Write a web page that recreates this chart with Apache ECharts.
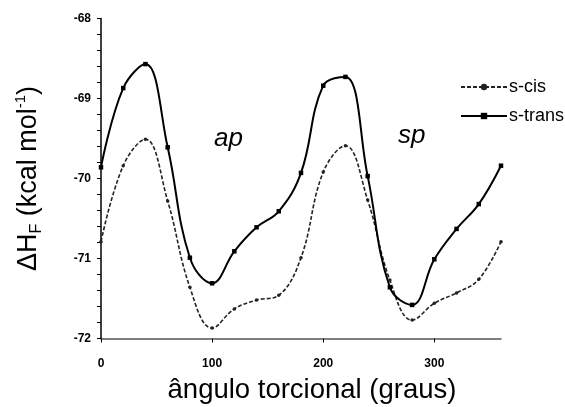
<!DOCTYPE html>
<html><head><meta charset="utf-8">
<script src="https://cdn.jsdelivr.net/npm/echarts@6/dist/echarts.min.js"></script>
<style>html,body{margin:0;padding:0;background:#fff}#c{width:565px;height:407px}</style>
</head><body><div id="c"></div>
<script>
var angles = [0,20,40,60,80,100,120,140,160,180,200,220,240,260,280,300,320,340,360];
var sCis = [-70.79,-69.84,-69.51,-70.28,-71.36,-71.87,-71.63,-71.52,-71.46,-70.99,-69.92,-69.59,-70.27,-71.27,-71.77,-71.56,-71.43,-71.26,-70.79];
var sTrans = [-69.86,-68.87,-68.57,-69.61,-70.99,-71.31,-70.91,-70.61,-70.41,-69.93,-68.84,-68.73,-69.97,-71.36,-71.58,-71.01,-70.63,-70.32,-69.84];
var xTickLabels = [0,100,200,300];
var seriesNames = ['s-cis','s-trans'];

function pairs(ys){ return angles.map(function(a,i){return [a, ys[i]];}); }
var F = 'Arial, "Liberation Sans", sans-serif';
var chart = echarts.init(document.getElementById('c'));
chart.setOption({
  animation:false,
  backgroundColor:'#fff',
  textStyle:{fontFamily:F},
  grid:{left:101,right:64,top:18.5,bottom:68.5,containLabel:false,outerBoundsMode:'none'},
  legend:{
    orient:'vertical', left:455, top:73, itemWidth:46, itemHeight:8, itemGap:11,
    textStyle:{fontSize:18, color:'#000', fontFamily:F, padding:[0,0,0,-3]},
    data:seriesNames
  },
  xAxis:{
    type:'value', min:0, max:360, interval:100,
    name:'ângulo torcional (graus)', nameLocation:'middle', nameGap:38,
    nameTextStyle:{fontSize:27.5, color:'#000', fontFamily:F, padding:[0,0,0,22]},
    axisLine:{lineStyle:{color:'#555', width:1.5}},
    axisTick:{length:4, lineStyle:{color:'#000'}, customValues:xTickLabels},
    axisLabel:{fontSize:12, fontWeight:'bold', color:'#000', margin:19, customValues:xTickLabels},
    splitLine:{show:false}
  },
  yAxis:{
    type:'value', min:-72, max:-68, interval:0.2,
    name:'{a|ΔH}{s|F}{a| (kcal mol}{p|-1}{a|)}', nameLocation:'middle', nameRotate:90, nameGap:56,
    nameTextStyle:{color:'#000', fontFamily:F,
      rich:{a:{fontSize:27, color:'#000', fontFamily:F, lineHeight:32},
            s:{fontSize:16, color:'#000', fontFamily:F, verticalAlign:'bottom', lineHeight:21},
            p:{fontSize:15, color:'#000', fontFamily:F, verticalAlign:'top', lineHeight:23}}},
    axisLine:{show:true, lineStyle:{color:'#000', width:1.5}},
    axisTick:{show:true, length:4, lineStyle:{color:'#000'}},
    axisLabel:{fontSize:12, fontWeight:'bold', color:'#000', margin:10,
      formatter:function(v){ var r=Math.round(v); return Math.abs(v-r)<1e-6 ? String(r) : ''; }},
    splitLine:{show:false}
  },
  graphic:[
    {type:'text', x:214, y:139, style:{text:'ap', font:'italic 26px '+F, fill:'#000', verticalAlign:'middle'}},
    {type:'text', x:398, y:136, style:{text:'sp', font:'italic 26px '+F, fill:'#000', verticalAlign:'middle'}}
  ],
  series:[
    {name:seriesNames[0], type:'line', data:pairs(sCis), smooth:0.4,
     symbol:'circle', symbolSize:3.5,
     lineStyle:{color:'#222', width:1.6, type:[4,2]},
     itemStyle:{color:'#222'}},
    {name:seriesNames[1], type:'line', data:pairs(sTrans), smooth:0.4,
     symbol:'rect', symbolSize:4.5,
     lineStyle:{color:'#000', width:2, type:'solid'},
     itemStyle:{color:'#000'}}
  ]
});
</script></body></html>
